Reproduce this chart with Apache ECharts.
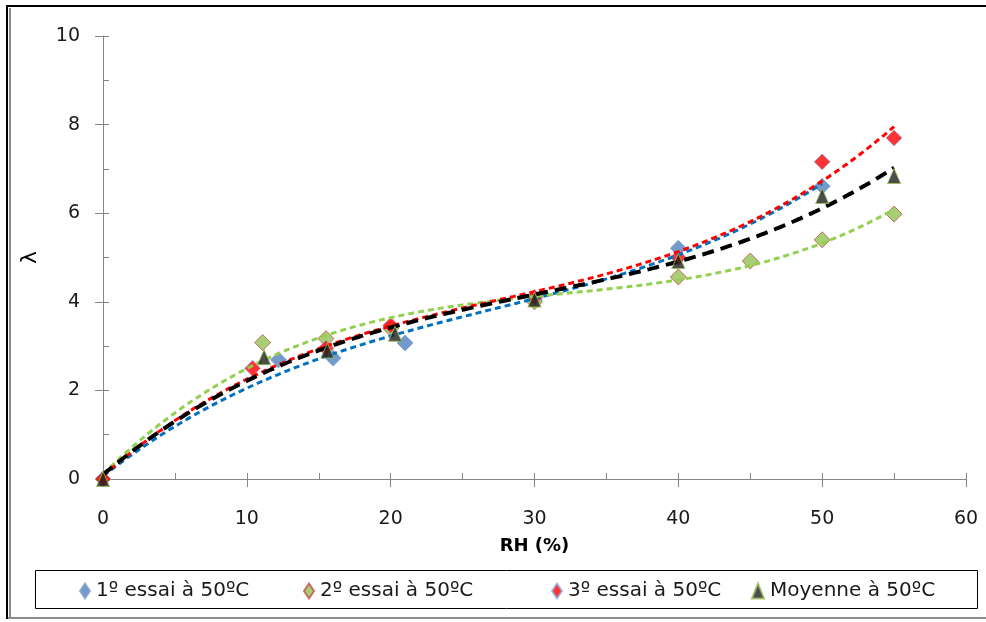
<!DOCTYPE html>
<html>
<head>
<meta charset="utf-8">
<script src="https://cdn.jsdelivr.net/npm/echarts@6/dist/echarts.min.js"></script>
<style>
  html, body { margin: 0; padding: 0; background: #fff; }
  #chart { width: 986px; height: 622px; }
</style>
</head>
<body>
<div id="chart"></div>
<script>
// Relative humidity (%) and lambda readings for each run at 50 ºC
const rh1 = [0, 12.2, 16, 21, 30, 40, 50];
const lambda1 = [0, 2.69, 2.73, 3.07, 4.06, 5.21, 6.61];

const rh2 = [0, 11.1, 15.5, 20, 30, 40, 45, 50, 55];
const lambda2 = [0, 3.08, 3.17, 3.4, 4.0, 4.56, 4.92, 5.4, 5.98];

const rh3 = [0, 10.4, 15.5, 20, 30, 40, 50, 55];
const lambda3 = [0, 2.5, 2.95, 3.47, 4.1, 5.0, 7.16, 7.7];

const rhAvg = [0, 11.2, 15.6, 20.3, 30, 40, 50, 55];
const lambdaAvg = [0, 2.75, 2.9, 3.28, 4.05, 4.92, 6.39, 6.84];

const seriesNames = ['1º essai à 50ºC', '2º essai à 50ºC', '3º essai à 50ºC', 'Moyenne à 50ºC'];

// Least-squares polynomial trendline (3rd order) through a run's points
function polyfit(xs, ys, deg) {
  const n = deg + 1;
  const m = [];
  for (let r = 0; r < n; r++) m.push(new Array(n + 1).fill(0));
  for (let i = 0; i < xs.length; i++) {
    for (let r = 0; r < n; r++) {
      for (let c = 0; c < n; c++) m[r][c] += Math.pow(xs[i], r + c);
      m[r][n] += ys[i] * Math.pow(xs[i], r);
    }
  }
  for (let p = 0; p < n; p++) {
    let best = p;
    for (let r = p + 1; r < n; r++) if (Math.abs(m[r][p]) > Math.abs(m[best][p])) best = r;
    [m[p], m[best]] = [m[best], m[p]];
    for (let r = 0; r < n; r++) {
      if (r === p) continue;
      const f = m[r][p] / m[p][p];
      for (let c = p; c <= n; c++) m[r][c] -= f * m[p][c];
    }
  }
  return m.map((row, i) => row[n] / row[i]);
}
function trend(xs, ys) {
  const k = polyfit(xs, ys, 3);
  const lo = Math.min(...xs), hi = Math.max(...xs);
  const out = [];
  for (let x = lo; x <= hi + 1e-9; x += 0.25) {
    out.push([x, k[0] + k[1] * x + k[2] * x * x + k[3] * x * x * x]);
  }
  return out;
}
const pairs = (xs, ys) => xs.map((x, i) => [x, ys[i]]);

const FONT = 'DejaVu Sans';
const chart = echarts.init(document.getElementById('chart'), null, { renderer: 'canvas' });

const gridBox = { left: 103, right: 20, top: 36, bottom: 143 };
const axisGray = '#868686';

function xAxisDef(primary) {
  return {
    type: 'value', min: 0, max: 60, interval: 10, gridIndex: 0,
    position: 'bottom',
    name: primary ? 'RH (%)' : '',
    nameLocation: 'middle', nameGap: 58,
    nameTextStyle: { fontFamily: FONT, fontSize: 18, fontWeight: 'bold', color: '#000' },
    axisLine: { show: primary, lineStyle: { color: axisGray, width: 1 } },
    axisTick: { show: true, inside: primary, length: primary ? 6 : 8, lineStyle: { color: axisGray } },
    minorTick: { show: primary, splitNumber: 2, length: 6, lineStyle: { color: axisGray } },
    axisLabel: { show: primary, margin: 31, fontFamily: FONT, fontSize: 19, color: '#1a1a1a' },
    splitLine: { show: false }
  };
}
function yAxisDef(primary) {
  return {
    type: 'value', min: 0, max: 10, interval: 2, gridIndex: 0,
    position: 'left',
    name: primary ? 'λ' : '',
    nameLocation: 'middle', nameGap: 62, nameRotate: 90,
    nameTextStyle: { fontFamily: FONT, fontSize: 22, color: '#000' },
    axisLine: { show: primary, lineStyle: { color: axisGray, width: 1 } },
    axisTick: { show: true, inside: primary, length: primary ? 6 : 8, lineStyle: { color: axisGray } },
    minorTick: { show: primary, splitNumber: 2, length: 6, lineStyle: { color: axisGray } },
    axisLabel: { show: primary, margin: 23, fontFamily: FONT, fontSize: 19, color: '#1a1a1a' },
    splitLine: { show: false }
  };
}

const markerStyles = [
  { symbol: 'diamond', size: 16, color: '#4F81BD', border: '#7FA1CF' },
  { symbol: 'diamond', size: 16, color: '#92C353', border: '#C0504D' },
  { symbol: 'diamond', size: 16, color: '#FF0000', border: '#8DB3E2' },
  { symbol: 'triangle', size: [13, 15], color: '#1F1F1F', border: '#9BBB59' }
];
const trendStyles = [
  { color: '#0070C0', width: 3, dash: [6, 4] },
  { color: '#92D050', width: 3, dash: [6, 4] },
  { color: '#FF0000', width: 3, dash: [6, 4] },
  { color: '#000000', width: 4, dash: [12, 7] }
];
const runs = [[rh1, lambda1], [rh2, lambda2], [rh3, lambda3], [rhAvg, lambdaAvg]];

const series = [];
runs.forEach((run, i) => {
  const ms = markerStyles[i];
  series.push({
    name: seriesNames[i], type: 'scatter', xAxisIndex: 0, yAxisIndex: 0,
    data: pairs(run[0], run[1]),
    symbol: ms.symbol, symbolSize: ms.size,
    itemStyle: { color: ms.color, borderColor: ms.border, borderWidth: 1 },
    z: i === 3 ? 5 : 2
  });
});
runs.forEach((run, i) => {
  const ts = trendStyles[i];
  series.push({
    name: seriesNames[i] + ' trend', type: 'line', xAxisIndex: 0, yAxisIndex: 0,
    data: trend(run[0], run[1]),
    showSymbol: false, symbol: 'none', smooth: false,
    lineStyle: { color: ts.color, width: ts.width, type: ts.dash, cap: 'butt' },
    z: 3, silent: true
  });
});

const legendLefts = [79, 303, 551, 751];
const legends = seriesNames.map((name, i) => ({
  data: [{ name: name, icon: markerStyles[i].symbol }],
  left: legendLefts[i], top: 581,
  itemWidth: i === 3 ? 12 : 10, itemHeight: 15, itemGap: 0, padding: 0,
  textStyle: { fontFamily: FONT, fontSize: 20, color: '#1a1a1a', padding: [0, 0, 0, 1] },
  selectedMode: false
}));

chart.setOption({
  animation: false,
  backgroundColor: '#ffffff',
  grid: gridBox,
  xAxis: [xAxisDef(true), Object.assign(xAxisDef(false), { axisLine: { show: false } })],
  yAxis: [yAxisDef(true), Object.assign(yAxisDef(false), { axisLine: { show: false } })],
  legend: legends,
  series: series,
  graphic: [
    // chart frame
    { type: 'rect', shape: { x: 7, y: 6, width: 990, height: 612 }, style: { fill: null, stroke: '#000', lineWidth: 2 }, silent: true },
    { type: 'line', shape: { x1: 10, y1: 8, x2: 10, y2: 617 }, style: { stroke: '#8c8c8c', lineWidth: 2 }, silent: true },
    { type: 'line', shape: { x1: 8, y1: 618, x2: 986, y2: 618 }, style: { stroke: '#8c8c8c', lineWidth: 2 }, silent: true },
    // legend box
    { type: 'rect', shape: { x: 35.5, y: 570.5, width: 942, height: 38 }, style: { fill: null, stroke: '#000', lineWidth: 1 }, silent: true }
  ]
});
</script>
</body>
</html>
